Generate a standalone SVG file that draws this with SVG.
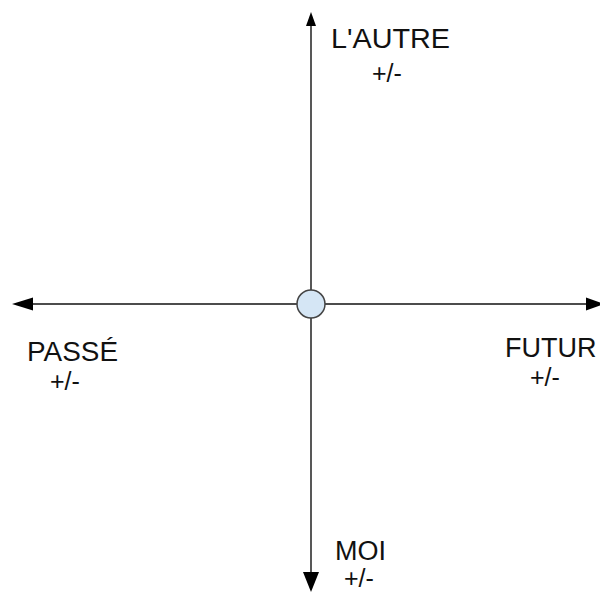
<svg xmlns="http://www.w3.org/2000/svg" width="600" height="592" viewBox="0 0 600 592">
<style>
.t{font-family:"Liberation Sans",Arial,sans-serif;font-size:27px;fill:#111}
.p{font-family:"Liberation Sans",Arial,sans-serif;font-size:25px;fill:#111}
.ax{stroke:#111;stroke-width:1.4;fill:none}
.ah{fill:#000}
</style>
<rect width="600" height="592" fill="#fff"/>
<g id="connectors">
<line class="ax" x1="311" y1="20" x2="311" y2="580"/>
<line class="ax" x1="25" y1="304" x2="592" y2="304"/>
<polygon class="ah" points="311,12 306,26 316,26"/>
<polygon class="ah" points="311,592 303,572 319,572"/>
<polygon class="ah" points="12,304 33,297.5 33,310.5"/>
<polygon class="ah" points="604,304 586,297.5 586,310.5"/>
</g>
<g id="center">
<circle cx="311" cy="304" r="14" fill="#d5e6f5" stroke="#444" stroke-width="1.5"/>
</g>
<g id="autre">
<text class="t" x="331" y="48" textLength="119" lengthAdjust="spacingAndGlyphs">L'AUTRE</text>
<text class="p" x="372" y="82">+/-</text>
</g>
<g id="passe">
<text class="t" x="27" y="361" textLength="91" lengthAdjust="spacingAndGlyphs">PASSÉ</text>
<text class="p" x="50" y="390">+/-</text>
</g>
<g id="futur">
<text class="t" x="505" y="357">FUTUR</text>
<text class="p" x="530" y="386">+/-</text>
</g>
<g id="moi">
<text class="t" x="335" y="560">MOI</text>
<text class="p" x="344" y="587">+/-</text>
</g>
</svg>
